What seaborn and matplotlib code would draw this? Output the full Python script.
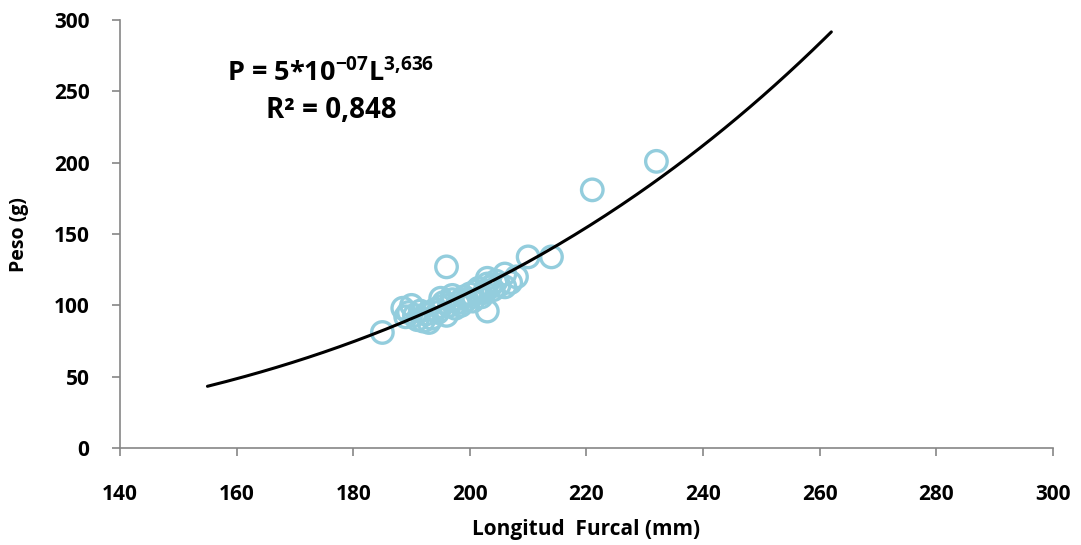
import numpy as np
import pandas as pd
import seaborn as sns
import matplotlib.pyplot as plt

# Longitud furcal (mm) y peso (g)
longitud = [185, 188.5, 189, 189.5, 190, 190.5, 191, 191.5, 192, 192.5,
            193, 193.5, 194, 194.5, 195, 195.5, 195, 196, 196.5, 197,
            197, 197.5, 198, 198.5, 199, 199.5, 200, 200.5, 201, 201.5,
            202, 202.5, 203, 203, 203.5, 204, 204.5, 205, 206, 206,
            207, 208, 203, 196, 210, 214, 221, 232]
peso = [81, 98, 92, 95, 100, 93, 90, 96, 89, 94,
        88, 91, 97, 95, 99, 102, 105, 93, 100, 104,
        107, 98, 102, 100, 106, 104, 108, 103, 110, 112,
        106, 109, 115, 119, 113, 111, 117, 114, 122, 113,
        116, 120, 96, 127, 134, 134, 181, 201]

# power trendline P = a * L^b (coefficient shown rounded on the chart)
coef_a = 4.7e-07
coef_b = 3.636
trend_min, trend_max = 155, 262

df = pd.DataFrame({'longitud': longitud, 'peso': peso})
trend_x = np.linspace(trend_min, trend_max, 200)
trend = pd.DataFrame({'longitud': trend_x, 'peso': coef_a * trend_x ** coef_b})

sns.set_style('white')
plt.rcParams['font.family'] = ['Open Sans', 'DejaVu Sans']
plt.rcParams['font.weight'] = 'bold'
plt.rcParams['mathtext.default'] = 'regular'
plt.rcParams['text.color'] = 'black'
plt.rcParams['xtick.color'] = 'black'
plt.rcParams['ytick.color'] = 'black'

fig = plt.figure(figsize=(10.81, 5.45), dpi=100)
ax = fig.add_axes([0.111, 0.178, 0.863, 0.785])

sns.scatterplot(data=df, x='longitud', y='peso', ax=ax, marker='o', s=240,
                facecolors='none', edgecolor='#93CDDD', linewidth=2.4, zorder=2)
sns.lineplot(data=trend, x='longitud', y='peso', ax=ax, color='black',
             linewidth=2.2, zorder=3)

ax.set_xlim(140, 300)
ax.set_ylim(0, 300)
ax.set_xticks(range(140, 301, 20))
ax.set_yticks(range(0, 301, 50))
ax.set_xticklabels([str(v) for v in range(140, 301, 20)], fontweight='bold', fontsize=15)
ax.set_yticklabels([str(v) for v in range(0, 301, 50)], fontweight='bold', fontsize=15)
ax.tick_params(axis='both', length=6, width=1.2, color='#868686',
               direction='out', left=True, bottom=True, labelcolor='black')
ax.tick_params(axis='x', pad=20)
ax.tick_params(axis='y', pad=16)

for side in ['top', 'right']:
    ax.spines[side].set_visible(False)
for side in ['left', 'bottom']:
    ax.spines[side].set_color('#868686')
    ax.spines[side].set_linewidth(1.2)

ax.set_xlabel('Longitud  Furcal (mm)', fontsize=15, fontweight='bold', labelpad=10,
              color='black')
ax.set_ylabel('Peso (g)', fontsize=14, fontweight='bold', labelpad=18, color='black')

ax.text(0.226, 0.878, 'P = 5*10$^{-07}$L$^{3{,}636}$', transform=ax.transAxes,
        ha='center', va='center', fontsize=19.5, fontweight='bold')
ax.text(0.226, 0.79, 'R² = 0,848', transform=ax.transAxes,
        ha='center', va='center', fontsize=20, fontweight='bold')

fig.savefig('out.png', dpi=100)
